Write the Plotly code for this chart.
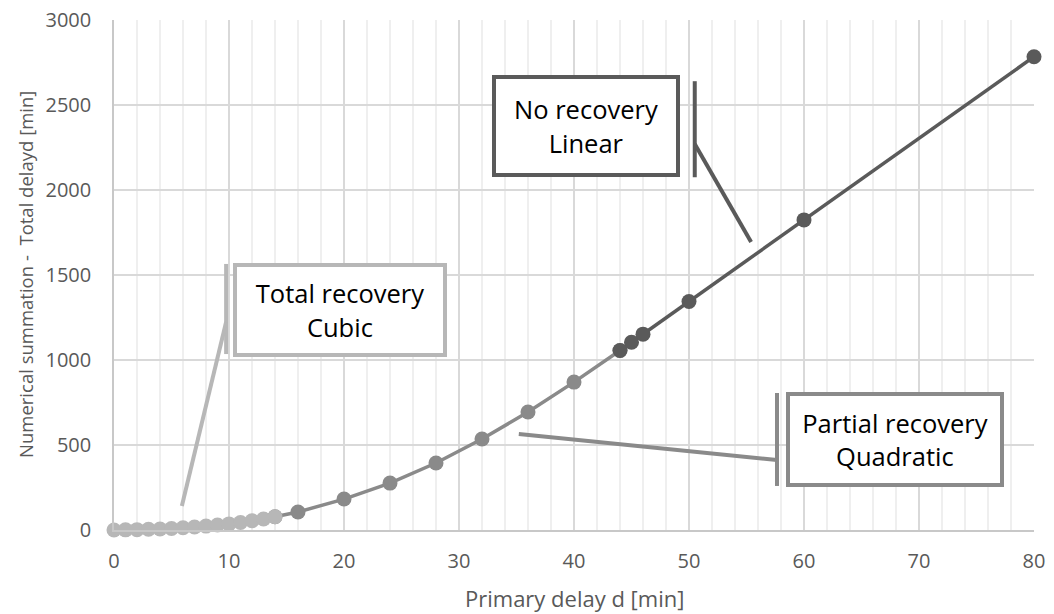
import plotly.graph_objects as go

# Data
cubic_x = [0, 1, 2, 3, 4, 5, 6, 7, 8, 9, 10, 11, 12, 13, 14]
cubic_y = [0, 1, 2, 4, 6, 9, 13, 18, 23, 29, 36, 44, 54, 65, 78]

quad_x = [14, 16, 20, 24, 28, 32, 36, 40, 44]
quad_y = [78, 106, 182, 276, 394, 535, 694, 870, 1056]

lin_x = [44, 45, 46, 50, 60, 80]
lin_y = [1056, 1104, 1152, 1344, 1824, 2784]

x_title = "Primary delay d [min]"
y_title = "Numerical summation -  Total delayd [min]"

LIGHT = "#b7b7b7"
MID = "#8a8a8a"
DARK = "#5a5a5a"
FONT = "Open Sans"
AXIS_TXT = "#595959"

fig = go.Figure()
fig.add_trace(go.Scatter(x=quad_x, y=quad_y, mode="lines+markers",
                         line=dict(color=MID, width=3.5),
                         marker=dict(color=MID, size=15), cliponaxis=False,
                         showlegend=False))
fig.add_trace(go.Scatter(x=cubic_x, y=cubic_y, mode="lines+markers",
                         line=dict(color=LIGHT, width=3.5),
                         marker=dict(color=LIGHT, size=15), cliponaxis=False,
                         showlegend=False))
fig.add_trace(go.Scatter(x=lin_x, y=lin_y, mode="lines+markers",
                         line=dict(color=DARK, width=3.5),
                         marker=dict(color=DARK, size=15), cliponaxis=False,
                         showlegend=False))

# Callout boxes: (text, box centre x, y, width, height, colour,
#                 bar x, bar y0, bar y1, leader start y, leader end x, y)
callouts = [
    ("No recovery<br>Linear", 41.0, 2376, 180, 94, DARK,
     50.5, 2075, 2640, 2271, 55.4, 1694),
    ("Total recovery<br>Cubic", 19.65, 1294, 206, 86, LIGHT,
     9.75, 1035, 1565, 1224, 5.9, 141),
    ("Partial recovery<br>Quadratic", 67.9, 532, 210, 87, MID,
     57.65, 259, 806, 412, 35.2, 565),
]

shapes = []
annotations = []
for (txt, cx, cy, w, h, col, bx, by0, by1, ly, ex, ey) in callouts:
    annotations.append(dict(
        x=cx, y=cy, xref="x", yref="y", text=txt, showarrow=False,
        font=dict(family=FONT, size=25.5, color="#000000"),
        bgcolor="white", bordercolor=col, borderwidth=4, borderpad=0,
        width=w, height=h, align="center", valign="middle"))
    shapes.append(dict(type="line", xref="x", yref="y", x0=bx, x1=bx,
                       y0=by0, y1=by1, line=dict(color=col, width=4)))
    shapes.append(dict(type="line", xref="x", yref="y", x0=bx, x1=ex,
                       y0=ly, y1=ey, line=dict(color=col, width=4)))

# axis titles
annotations.append(dict(x=0.5, y=0, xref="paper", yref="paper", text=x_title,
                        showarrow=False, xanchor="center", yanchor="middle",
                        yshift=-68, font=dict(family=FONT, size=22, color=AXIS_TXT)))
annotations.append(dict(x=0, y=0.5, xref="paper", yref="paper", text=y_title,
                        showarrow=False, xanchor="center", yanchor="middle",
                        textangle=-90, xshift=-89,
                        font=dict(family=FONT, size=18.5, color=AXIS_TXT)))

fig.update_layout(
    width=1054, height=614,
    margin=dict(l=114, r=20, t=20, b=84, autoexpand=False),
    paper_bgcolor="white", plot_bgcolor="white",
    font=dict(family=FONT, color=AXIS_TXT, size=20),
    shapes=shapes, annotations=annotations,
    xaxis=dict(
        range=[0, 80], tick0=0, dtick=10, showgrid=True, gridcolor="#d9d9d9",
        gridwidth=1.5, automargin=False,
        minor=dict(dtick=2, showgrid=True, gridcolor="#efefef", gridwidth=1.5),
        showline=True, linecolor="#c8c8c8", linewidth=1.5, zeroline=False,
        ticks="outside", ticklen=12, tickcolor="rgba(0,0,0,0)",
        tickfont=dict(size=20, color=AXIS_TXT),
    ),
    yaxis=dict(
        range=[0, 3000], tick0=0, dtick=500, showgrid=True, gridcolor="#d9d9d9",
        gridwidth=1.5, showline=True, linecolor="#c8c8c8", linewidth=1.5,
        automargin=False,
        zeroline=False, ticks="outside", ticklen=17, tickcolor="rgba(0,0,0,0)",
        tickfont=dict(size=20, color=AXIS_TXT),
    ),
)

fig.write_html("out.html",
               config={"displayModeBar": False},
               post_script="document.body.style.margin='0';"
                           "document.body.style.overflow='hidden';")
